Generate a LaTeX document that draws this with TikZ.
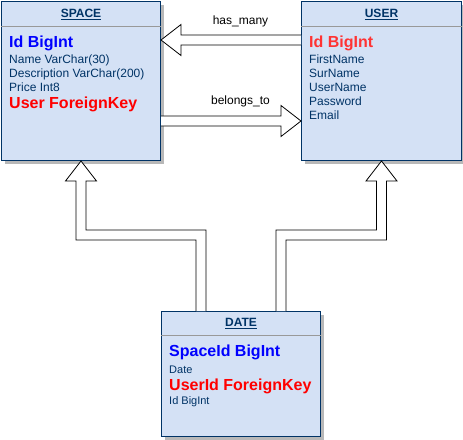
\documentclass[tikz,border=0pt]{standalone}
\usepackage{fontspec}
\setmainfont{Liberation Sans}
\usetikzlibrary{calc,shadows}
\definecolor{boxblue}{HTML}{D4E1F5}
\definecolor{navy}{HTML}{003366}
\definecolor{keyblue}{RGB}{0,0,255}
\definecolor{keyred}{RGB}{255,0,0}
\definecolor{softred}{HTML}{FF3333}

\begin{document}
\begin{tikzpicture}[x=1pt, y=-1pt,
    entity/.style={draw=navy, fill=boxblue, line width=1pt, anchor=north west, inner sep=0pt,
        drop shadow={shadow xshift=3pt, shadow yshift=-3pt, fill=black!28, opacity=1}},
    divider/.style={draw=black!40, line width=1pt},
    header/.style={anchor=base, inner sep=0pt, text=navy, font=\fontsize{12}{14}\selectfont\bfseries},
    field/.style={anchor=base west, inner sep=0pt, text=navy, font=\fontsize{12}{14}\selectfont},
    small/.style={field, font=\fontsize{11}{13}\selectfont},
    bigkey/.style={anchor=base west, inner sep=0pt, font=\fontsize{16}{19}\selectfont\bfseries},
    flex/.style={draw=black, fill=white, line width=0.8pt, line join=miter},
    relname/.style={anchor=base, inner sep=0pt, font=\fontsize{12}{14}\selectfont}]
    \useasboundingbox (0,0) rectangle (463,439);

    % tables
    \node[entity, minimum width=159pt, minimum height=159pt] (space) at (1,1) {};
    \node[entity, minimum width=160pt, minimum height=159pt] (user) at (301,1) {};
    \node[entity, minimum width=159pt, minimum height=125pt] (date) at (161,311) {};

    \draw[divider] ([yshift=-25pt]space.north west) -- ([yshift=-25pt]space.north east);
    \draw[divider] ([yshift=-25pt]user.north west) -- ([yshift=-25pt]user.north east);
    \draw[divider] ([yshift=-24pt]date.north west) -- ([yshift=-24pt]date.north east);

    \node[header] (space title) at ([yshift=-16.5pt]space.north) {\underline{SPACE}};
    \node[header] (user title) at ([yshift=-16.5pt]user.north) {\underline{USER}};
    \node[header] (date title) at ([yshift=-15.5pt]date.north) {\underline{DATE}};

    % SPACE fields
    \node[bigkey, text=keyblue] (space id) at (9,47.5) {Id BigInt};
    \node[field] (space name) at (9,63.5) {Name VarChar(30)};
    \node[field] (space desc) at (9,77.5) {Description VarChar(200)};
    \node[field] (space price) at (9,91.5) {Price Int8};
    \node[bigkey, text=keyred] (space user) at (9,108) {User ForeignKey};

    % USER fields
    \node[bigkey, text=softred] (user id) at (309,47) {Id BigInt};
    \node[field] (user first) at (309,63.5) {FirstName};
    \node[field] (user sur) at (309,77.5) {SurName};
    \node[field] (user name) at (309,91.5) {UserName};
    \node[field] (user pass) at (309,105) {Password};
    \node[field] (user mail) at (309,119) {Email};

    % DATE fields
    \node[bigkey, text=keyblue] (date space) at (169,356.5) {SpaceId BigInt};
    \node[small] (date date) at (169,373) {Date};
    \node[bigkey, text=keyred] (date user) at (169,390) {UserId ForeignKey};
    \node[small] (date id) at (169,404.5) {Id BigInt};

    % has_many / belongs_to
    \coordinate (hm) at (0,40);
    \coordinate (bt) at (0,121);
    \coordinate (hm from) at (user.west |- hm);
    \coordinate (hm to) at (space.east |- hm);
    \coordinate (bt from) at (space.east |- bt);
    \coordinate (bt to) at (user.west |- bt);
    \draw[flex] ([yshift=5pt]hm from) -- ([shift={(20,-5)}]hm to) -- ++(0,-10.5) -- (hm to)
        -- ([shift={(20,15.5)}]hm to) -- ++(0,-10.5) -- ([yshift=-5pt]hm from);
    \draw[flex] ([yshift=5pt]bt from) -- ([shift={(-20,-5)}]bt to) -- ++(0,-10.5) -- (bt to)
        -- ([shift={(-20,15.5)}]bt to) -- ++(0,-10.5) -- ([yshift=-5pt]bt from);
    \node[relname] (hm label) at (240.5,24.5) {has\_many};
    \node[relname] (bt label) at (240.5,104) {belongs\_to};

    % DATE up to SPACE and USER
    \coordinate (mid) at (0,235);
    \coordinate (d1) at ([xshift=-40pt]date.north);
    \coordinate (d2) at ([xshift=40pt]date.north);
    \coordinate (lbend) at (space.south |- mid);
    \coordinate (rbend) at (user.south |- mid);
    \coordinate (ltop) at (d1 |- mid);
    \coordinate (rtop) at (d2 |- mid);
    \draw[flex] ([xshift=5pt]d1) |- ([shift={(5,-5)}]lbend) -- ([shift={(5,20)}]space.south)
        -- ++(10.5,0) -- (space.south) -- ([shift={(-15.5,20)}]space.south) -- ++(10.5,0)
        |- ([shift={(-5,5)}]ltop) -- ([xshift=-5pt]d1);
    \draw[flex] ([xshift=-5pt]d2) |- ([shift={(-5,-5)}]rbend) -- ([shift={(-5,20)}]user.south)
        -- ++(-10.5,0) -- (user.south) -- ([shift={(15.5,20)}]user.south) -- ++(-10.5,0)
        |- ([shift={(5,5)}]rtop) -- ([xshift=5pt]d2);
\end{tikzpicture}
\end{document}
